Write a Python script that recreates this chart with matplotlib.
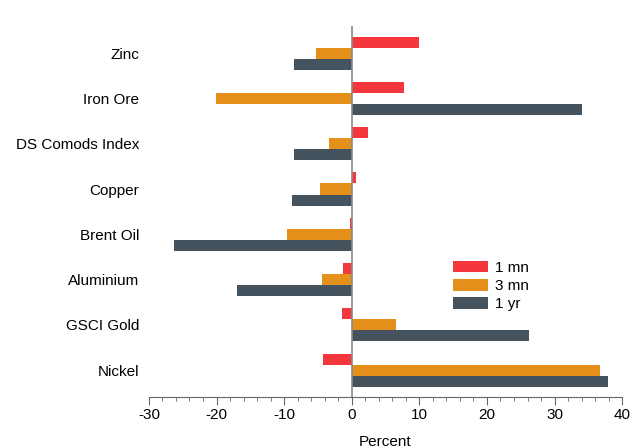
import numpy as np
import matplotlib.pyplot as plt
from matplotlib.ticker import MultipleLocator

plt.rcParams['font.family'] = ['Liberation Sans', 'DejaVu Sans']
plt.rcParams['axes.unicode_minus'] = False

# data
commodities = ['Zinc', 'Iron Ore', 'DS Comods Index', 'Copper',
               'Brent Oil', 'Aluminium', 'GSCI Gold', 'Nickel']
one_mn = [9.9, 7.7, 2.4, 0.7, -0.2, -1.3, -1.5, -4.3]
three_mn = [-5.3, -20.1, -3.4, -4.7, -9.6, -4.4, 6.6, 36.7]
one_yr = [-8.6, 34.0, -8.6, -8.9, -26.3, -16.9, 26.2, 37.9]
series_labels = ['1 mn', '3 mn', '1 yr']
colors = ['#F4363D', '#E4901A', '#44535E']

fig = plt.figure(figsize=(6.31, 4.47), dpi=100)
ax = fig.add_axes([0.236, 0.112, 0.75, 0.830])

n = len(commodities)
pos = np.arange(n)[::-1]
h = 0.244
for i, (vals, lab, c) in enumerate(zip([one_mn, three_mn, one_yr], series_labels, colors)):
    ax.barh(pos + h - i * h, vals, height=h, color=c, label=lab)

ax.axvline(0, color='#8a8a8a', linewidth=1.2, zorder=3)

ax.set_xlim(-30, 40)
ax.set_ylim(-0.59, 7.6)
ax.set_yticks(pos)
ax.set_yticklabels(commodities, fontsize=11)
ax.tick_params(axis='y', length=0, pad=7)

ax.xaxis.set_major_locator(MultipleLocator(10))
ax.xaxis.set_minor_locator(MultipleLocator(2))
ax.tick_params(axis='x', which='major', length=6, color='#666666', labelsize=11, pad=2)
ax.tick_params(axis='x', which='minor', length=3, color='#666666')
ax.set_xlabel('Percent', fontsize=11, labelpad=9)

for s in ['top', 'right', 'left']:
    ax.spines[s].set_visible(False)
ax.spines['bottom'].set_color('#666666')

ax.legend(loc='upper left', bbox_to_anchor=(0.643, 0.366), frameon=False,
          handlelength=2.3, handleheight=0.75, labelspacing=0.27,
          handletextpad=0.45, fontsize=11, borderaxespad=0, borderpad=0)

fig.savefig('out.png', dpi=100)
